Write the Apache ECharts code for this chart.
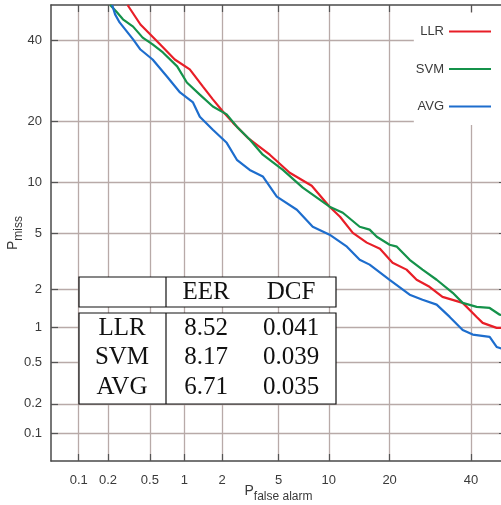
<!DOCTYPE html>
<html>
<head>
<meta charset="utf-8">
<script src="https://cdn.jsdelivr.net/npm/echarts@6/dist/echarts.min.js"></script>
<style>
  html, body { margin: 0; padding: 0; background: #fff; }
  #chart { width: 501px; height: 505px; }
</style>
</head>
<body>
<div id="chart"></div>
<script>
// DET curves: false alarm vs miss probability (%), on normal-deviate axes
const tickValues = [0.1, 0.2, 0.5, 1, 2, 5, 10, 20, 40];
const axisMinPct = 0.05;
const axisMaxPct = 50;

const llrFa   = [0.31, 0.41, 0.62, 0.83, 1.11, 1.42, 1.70, 2.03, 2.41, 3.09, 4.38, 5.89, 8.0, 10.1, 11.5, 13.4, 15.7, 18.1, 20.6, 23.6, 25.9, 29.0, 32.3, 37.7, 41.6, 43.3, 47.3, 50];
const llrMiss = [50, 44.4, 38.8, 34.7, 32.1, 27.8, 24.8, 22.1, 19.8, 16.9, 14.0, 11.3, 9.6, 7.28, 6.33, 5.01, 4.32, 3.93, 3.15, 2.81, 2.37, 2.10, 1.76, 1.58, 1.22, 1.09, 0.99, 0.99];

const svmFa   = [0.21, 0.245, 0.28, 0.35, 0.43, 0.53, 0.655, 0.87, 1.05, 1.34, 1.70, 2.17, 2.58, 3.19, 3.93, 5.33, 7.08, 10.1, 11.9, 14.5, 16.2, 17.5, 20.0, 21.5, 24.3, 27.3, 30.8, 35.0, 37.7, 41.6, 45.3, 48.2, 50];
const svmMiss = [50, 47.9, 45.9, 43.8, 40.7, 38.8, 36.6, 32.9, 28.8, 25.9, 23.2, 21.5, 19.0, 16.6, 14.0, 11.7, 9.38, 7.28, 6.69, 5.48, 5.25, 4.72, 4.18, 4.06, 3.30, 2.81, 2.37, 1.89, 1.58, 1.47, 1.44, 1.27, 1.25];

const avgFa   = [0.22, 0.235, 0.26, 0.35, 0.41, 0.53, 0.71, 0.92, 1.18, 1.34, 1.70, 2.17, 2.58, 3.19, 3.93, 4.87, 6.52, 8.11, 10.1, 12.5, 14.5, 16.2, 20.0, 24.3, 27.3, 30.8, 34.2, 37.7, 40.5, 45.3, 47.3, 50];
const avgMiss = [50, 47.3, 45.0, 40.2, 37.4, 34.7, 30.3, 26.4, 24.1, 21.0, 18.4, 16.0, 13.2, 11.7, 10.8, 8.33, 6.98, 5.48, 4.87, 4.06, 3.30, 3.05, 2.37, 1.83, 1.67, 1.53, 1.22, 0.95, 0.87, 0.83, 0.68, 0.64];

// Summary table
const systems = ['LLR', 'SVM', 'AVG'];
const eer = ['8.52', '8.17', '6.71'];
const dcf = ['0.041', '0.039', '0.035'];
const colors = ['#e81e27', '#14924a', '#1d6dcd'];

// Inverse standard normal CDF (Acklam)
function probit(p) {
  const a = [-3.969683028665376e+01, 2.209460984245205e+02, -2.759285104469687e+02, 1.383577518672690e+02, -3.066479806614716e+01, 2.506628277459239e+00];
  const b = [-5.447609879822406e+01, 1.615858368580409e+02, -1.556989798598866e+02, 6.680131188771972e+01, -1.328068155288572e+01];
  const c = [-7.784894002430293e-03, -3.223964580411365e-01, -2.400758277161838e+00, -2.549671010115750e+00, 4.374664141464968e+00, 2.938163982698783e+00];
  const d = [7.784695709041462e-03, 3.224671290700398e-01, 2.445134137142996e+00, 3.754408661907416e+00];
  const pl = 0.02425;
  if (p < pl) {
    const q = Math.sqrt(-2 * Math.log(p));
    return (((((c[0]*q+c[1])*q+c[2])*q+c[3])*q+c[4])*q+c[5]) / ((((d[0]*q+d[1])*q+d[2])*q+d[3])*q+1);
  }
  if (p <= 1 - pl) {
    const q = p - 0.5, r = q * q;
    return (((((a[0]*r+a[1])*r+a[2])*r+a[3])*r+a[4])*r+a[5])*q / (((((b[0]*r+b[1])*r+b[2])*r+b[3])*r+b[4])*r+1);
  }
  const q = Math.sqrt(-2 * Math.log(1 - p));
  return -(((((c[0]*q+c[1])*q+c[2])*q+c[3])*q+c[4])*q+c[5]) / ((((d[0]*q+d[1])*q+d[2])*q+d[3])*q+1);
}
const dev = pct => (pct >= 50 ? 0 : probit(pct / 100));

const tickDev = tickValues.map(dev);
const labelOf = v => {
  let best = 0;
  tickDev.forEach((t, i) => { if (Math.abs(t - v) < Math.abs(tickDev[best] - v)) best = i; });
  return String(tickValues[best]);
};
const pairs = (xs, ys) => xs.map((x, i) => [dev(x), dev(ys[i])]);

const gridColor = '#b8aaa8';
const axisColor = '#4a4a4a';
const textColor = '#3a3a3a';
const fontFamily = '"Liberation Sans", Arial, Helvetica, sans-serif';
const serif = '"Liberation Serif", "DejaVu Serif", serif';

function makeAxis(extra) {
  return Object.assign({
    type: 'value',
    min: dev(axisMinPct),
    max: dev(axisMaxPct),
    axisLine: { show: true, onZero: false, lineStyle: { color: axisColor, width: 1.5 } },
    axisTick: { show: true, inside: true, length: 7, customValues: tickDev, lineStyle: { color: '#555', width: 1.2 } },
    axisLabel: { show: false, customValues: tickDev },
    splitLine: { show: false }
  }, extra);
}

const labelStyle = { show: true, customValues: tickDev, formatter: labelOf, color: textColor, fontSize: 13, fontFamily };

// "P" with a lowered subscript
const subRich = {
  p: { fontSize: 14, fontFamily, color: textColor, lineHeight: 24, verticalAlign: 'middle' },
  s: { fontSize: 12, fontFamily, color: textColor, lineHeight: 10, verticalAlign: 'bottom' }
};

const chart = echarts.init(document.getElementById('chart'), null, { renderer: 'canvas' });

const option = {
  backgroundColor: '#ffffff',
  animation: false,
  grid: { left: 51, top: 5, right: -5, bottom: 44, containLabel: false, outerBoundsMode: 'none' },
  legend: {
    orient: 'vertical',
    right: 0,
    top: 13,
    align: 'right',
    backgroundColor: '#ffffff',
    padding: [12, 10, 12, 2],
    itemGap: 24.5,
    itemWidth: 42,
    itemHeight: 2,
    icon: 'rect',
    textStyle: { color: textColor, fontSize: 13, fontFamily },
    data: systems
  },
  xAxis: [
    makeAxis({
      position: 'bottom',
      axisLabel: Object.assign({}, labelStyle, { margin: 13 }),
      splitLine: { show: true, lineStyle: { color: gridColor, width: 1.3 } },
      name: '{p|P}{s|false alarm}',
      nameLocation: 'middle',
      nameGap: 18,
      nameMoveOverlap: false,
      nameTextStyle: { rich: subRich }
    }),
    makeAxis({ position: 'top' })
  ],
  yAxis: [
    makeAxis({
      position: 'left',
      axisLabel: Object.assign({}, labelStyle, { margin: 9 }),
      splitLine: { show: true, lineStyle: { color: gridColor, width: 1.3 } },
      name: '{p|P}{s|miss}',
      nameLocation: 'middle',
      nameRotate: 90,
      nameGap: 26,
      nameMoveOverlap: false,
      nameTextStyle: { rich: subRich }
    }),
    makeAxis({ position: 'right' })
  ],
  series: [
    { name: 'LLR', data: pairs(llrFa, llrMiss) },
    { name: 'SVM', data: pairs(svmFa, svmMiss) },
    { name: 'AVG', data: pairs(avgFa, avgMiss) }
  ].map((s, i) => ({
    name: s.name,
    type: 'line',
    data: s.data,
    showSymbol: false,
    symbol: 'none',
    smooth: false,
    clip: true,
    z: 3,
    color: colors[i],
    lineStyle: { color: colors[i], width: 2.2 }
  })),
  graphic: buildTable()
};

// EER / DCF summary table drawn over the lower-left of the plot
function buildTable() {
  const x0 = 79, x1 = 336, xDiv = 166;
  const hTop = 277, hBot = 307, bTop = 313, bBot = 404;
  const rowY = [328, 357.5, 387];
  const els = [];
  const line = { stroke: '#111', lineWidth: 1.2 };
  els.push({ type: 'rect', shape: { x: x0, y: hTop, width: x1 - x0, height: hBot - hTop }, style: Object.assign({ fill: '#fff' }, line), z: 100 });
  els.push({ type: 'rect', shape: { x: x0, y: bTop, width: x1 - x0, height: bBot - bTop }, style: Object.assign({ fill: '#fff' }, line), z: 100 });
  els.push({ type: 'line', shape: { x1: xDiv, y1: hTop, x2: xDiv, y2: hBot }, style: line, z: 101 });
  els.push({ type: 'line', shape: { x1: xDiv, y1: bTop, x2: xDiv, y2: bBot }, style: line, z: 101 });
  const txt = (s, x, y) => ({
    type: 'text', x, y, z: 102,
    style: { text: s, fill: '#111', font: '25px ' + serif, align: 'center', verticalAlign: 'middle' }
  });
  els.push(txt('EER', 206, 292));
  els.push(txt('DCF', 291, 292));
  systems.forEach((name, i) => {
    els.push(txt(name, 122, rowY[i]));
    els.push(txt(eer[i], 206, rowY[i]));
    els.push(txt(dcf[i], 291, rowY[i]));
  });
  return els;
}

chart.setOption(option);
</script>
</body>
</html>
